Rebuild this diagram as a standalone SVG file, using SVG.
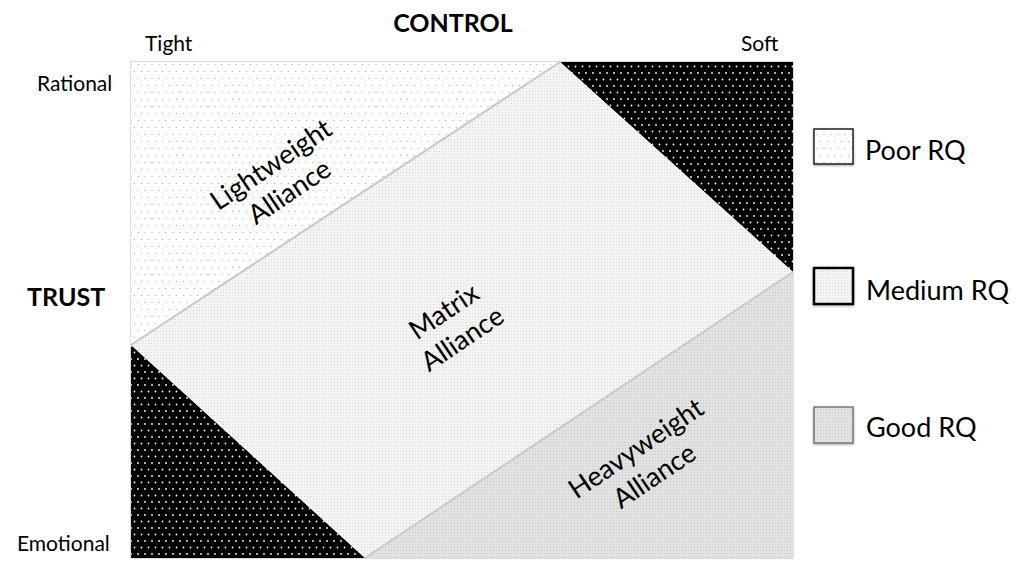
<svg xmlns="http://www.w3.org/2000/svg" width="1021" height="563" viewBox="0 0 1021 563">
<defs>
<style>
.lbl{font-family:Lato,"Open Sans","Liberation Sans",sans-serif;fill:#000}
.ax{font-size:21px}
.head{font-size:25px;font-weight:bold}
.leg{font-size:27px}
.reg{font-size:27px;text-anchor:middle}
</style>
<pattern id="pPoor" width="7" height="14" patternUnits="userSpaceOnUse">
<rect width="7" height="14" fill="#ffffff"/>
<circle cx="1.5" cy="1.5" r="0.7" fill="#b8b8b8"/>
<circle cx="5" cy="8.5" r="0.7" fill="#b8b8b8"/>
</pattern>
<pattern id="pMed" width="7" height="13" patternUnits="userSpaceOnUse">
<rect width="7" height="13" fill="#000000"/>
<circle cx="1.5" cy="1.5" r="0.9" fill="#ffffff"/>
<circle cx="5" cy="8" r="0.9" fill="#ffffff"/>
</pattern>
<pattern id="pMatrix" width="3" height="3" patternUnits="userSpaceOnUse">
<rect width="3" height="3" fill="#f4f4f4"/>
<rect x="1" y="1" width="1" height="1" fill="#d6d6d6"/>
</pattern>
<pattern id="pGood" width="3" height="3" patternUnits="userSpaceOnUse">
<rect width="3" height="3" fill="#e2e2e2"/>
<rect x="1" y="1" width="1" height="1" fill="#c4c4c4"/>
</pattern>
<filter id="sh" x="-10%" y="-10%" width="120%" height="120%">
<feDropShadow dx="0" dy="1" stdDeviation="1" flood-color="#000" flood-opacity="0.35"/>
</filter>
</defs>

<g id="axes">
<text class="lbl head" x="453" y="32" text-anchor="middle">CONTROL</text>
<text class="lbl ax" x="145" y="51">Tight</text>
<text class="lbl ax" x="741" y="51">Soft</text>
<text class="lbl ax" x="37" y="91">Rational</text>
<text class="lbl head" x="27" y="306">TRUST</text>
<text class="lbl ax" x="17" y="551">Emotional</text>
</g>

<g id="matrix">
<rect x="131" y="62" width="662" height="496" fill="#ffffff" stroke="#dddddd" stroke-width="2"/>
<g id="lightweight">
<polygon points="131,62 560,62 131,345" fill="url(#pPoor)"/>
<text class="lbl reg" transform="translate(280,178) rotate(-34)"><tspan x="0" y="-7">Lightweight</tspan><tspan x="0" y="26">Alliance</tspan></text>
</g>
<g id="medium-top">
<polygon points="560,62 793,62 793,272" fill="url(#pMed)"/>
</g>
<g id="medium-bottom">
<polygon points="131,345 131,558 365,558" fill="url(#pMed)"/>
</g>
<g id="matrix-alliance">
<polygon points="131,345 560,62 793,272 365,558" fill="url(#pMatrix)"/>
<text class="lbl reg" transform="translate(453,325) rotate(-34)"><tspan x="0" y="-7">Matrix</tspan><tspan x="0" y="26">Alliance</tspan></text>
</g>
<g id="heavyweight">
<polygon points="365,558 793,272 793,558" fill="url(#pGood)"/>
<text class="lbl reg" transform="translate(645,462) rotate(-34)"><tspan x="0" y="-7">Heavyweight</tspan><tspan x="0" y="26">Alliance</tspan></text>
</g>
</g>

<g id="connectors">
<line x1="131" y1="345" x2="560" y2="62" stroke="#c8c8c8" stroke-width="2"/>
<line x1="365" y1="558" x2="793" y2="272" stroke="#c8c8c8" stroke-width="2"/>
</g>

<g id="legend-poor">
<rect x="814" y="129" width="39" height="35" fill="url(#pPoor)" stroke="#222" stroke-width="1.5" filter="url(#sh)"/>
<text class="lbl leg" x="865" y="160">Poor RQ</text>
</g>
<g id="legend-medium">
<rect x="814" y="268" width="39" height="36" fill="url(#pMatrix)" stroke="#000" stroke-width="2.5" filter="url(#sh)"/>
<text class="lbl leg" x="866" y="300">Medium RQ</text>
</g>
<g id="legend-good">
<rect x="814" y="407" width="39" height="36" fill="url(#pGood)" stroke="#777" stroke-width="1.5" filter="url(#sh)"/>
<text class="lbl leg" x="866" y="437">Good RQ</text>
</g>
</svg>
